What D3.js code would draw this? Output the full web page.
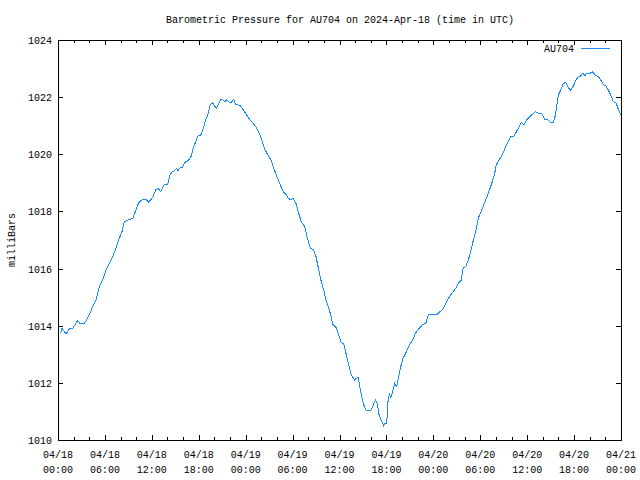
<!DOCTYPE html>
<html>
<head>
<meta charset="utf-8">
<script src="https://cdn.jsdelivr.net/npm/d3@7"></script>
<style>
  html, body { margin: 0; padding: 0; background: #fff; }
  svg { display: block; }
  text { font-family: "Liberation Mono", "DejaVu Sans Mono", monospace; font-size: 10px; fill: #000; }
</style>
</head>
<body>
<svg id="chart" width="640" height="480"></svg>
<script>
// ---- data ----
const title = "Barometric Pressure for AU704 on 2024-Apr-18 (time in UTC)";
const yLabel = "milliBars";
const seriesName = "AU704";
const startTime = "2024-04-18T00:00:00Z";
const endTime = "2024-04-21T00:00:00Z";
const yTicks = [1010, 1012, 1014, 1016, 1018, 1020, 1022, 1024];
// hours since 2024-04-18 00:00 UTC
const hours = [0.35,0.51,1.02,1.53,1.88,2.52,2.81,3.33,3.67,4.00,4.44,4.86,5.28,5.72,6.14,6.56,7.00,7.42,7.84,8.18,8.48,8.91,9.55,9.98,10.32,10.83,11.34,11.60,12.11,12.53,12.79,13.13,13.59,14.03,14.32,14.58,14.92,15.18,15.35,15.60,
15.90,16.24,16.66,17.01,17.30,17.61,17.87,18.29,18.58,18.89,19.22,19.48,19.73,19.99,20.24,20.50,20.81,21.14,21.36,21.57,21.87,22.21,22.47,22.73,23.28,23.70,24.13,24.55,24.98,25.41,25.83,26.13,26.38,26.82,27.24,27.53,27.84,28.17,28.52,28.81,29.12,29.45,29.80,30.09,30.31,
30.44,30.78,31.12,31.55,31.84,32.27,32.70,33.00,33.34,33.67,33.98,34.27,34.62,34.95,35.13,35.55,35.90,36.23,36.54,36.83,37.18,37.51,37.94,38.15,38.37,38.53,38.79,39.10,39.39,39.65,39.99,40.25,40.58,40.84,41.01,41.22,41.44,41.65,41.78,42.04,42.11,42.20,42.37,42.55,42.80,43.06,43.32,43.57,43.83,44.12,44.42,44.76,45.06,45.36,45.70,
46.08,46.59,47.03,47.36,47.87,48.51,48.82,49.15,49.58,50.00,50.43,50.86,51.28,51.58,51.80,52.14,52.47,52.78,53.07,53.42,53.75,54.19,54.61,55.03,55.47,55.80,56.05,56.40,56.82,57.26,57.59,57.90,58.32,58.62,58.87,59.25,59.60,59.94,60.36,60.79,61.09,61.43,61.86,62.28,62.70,62.92,63.34,63.56,63.78,63.98,64.29,64.62,64.93,65.26,65.57,65.90,66.25,66.54,66.85,67.10,67.40,67.62,68.04,68.33,68.68,69.10,69.41,69.74,70.09,70.38,70.68,71.02,71.36,71.66,71.84,72.00];
const pressure = [1013.73,1013.91,1013.71,1013.91,1013.91,1014.18,1014.08,1014.08,1014.20,1014.38,1014.67,1014.90,1015.37,1015.60,1015.95,1016.18,1016.42,1016.71,1017.06,1017.29,1017.63,1017.70,1017.75,1018.05,1018.31,1018.42,1018.40,1018.33,1018.49,1018.77,1018.80,1018.70,1018.93,1018.96,1019.27,1019.39,1019.43,1019.50,1019.43,1019.52,
1019.54,1019.72,1019.78,1019.92,1020.21,1020.44,1020.64,1020.68,1020.91,1021.20,1021.43,1021.73,1021.81,1021.71,1021.62,1021.74,1021.92,1021.90,1021.83,1021.92,1021.82,1021.83,1021.92,1021.74,1021.71,1021.55,1021.38,1021.20,1021.08,1020.91,1020.68,1020.44,1020.21,1019.98,1019.80,1019.57,1019.33,1019.10,1018.87,1018.69,1018.61,1018.46,1018.40,1018.46,1018.34,
1018.28,1017.93,1017.64,1017.47,1017.12,1016.71,1016.65,1016.42,1015.95,1015.54,1015.25,1014.90,1014.61,1014.32,1014.05,1013.94,1013.68,1013.41,1013.36,1013.03,1012.63,1012.28,1012.10,1012.16,1012.19,1011.98,1011.58,1011.23,1011.05,1011.02,1011.02,1011.17,1011.40,1011.28,1010.93,1010.76,1010.64,1010.49,1010.58,1010.58,1010.93,1011.34,1011.61,1011.49,1011.69,1011.98,1011.87,1012.22,1012.57,1012.86,1013.01,1013.21,1013.38,1013.50,1013.73,
1013.87,1014.03,1014.08,1014.38,1014.40,1014.40,1014.49,1014.55,1014.78,1014.98,1015.16,1015.31,1015.51,1015.60,1016.01,1016.07,1016.30,1016.59,1016.94,1017.29,1017.76,1018.05,1018.34,1018.63,1018.98,1019.27,1019.63,1019.80,1019.98,1020.27,1020.44,1020.64,1020.64,1020.79,1020.91,1021.11,1021.03,1021.20,1021.32,1021.43,1021.49,1021.43,1021.43,1021.22,1021.20,1021.13,1021.13,1021.32,1021.67,1022.08,1022.25,1022.48,1022.51,1022.34,1022.23,1022.39,1022.60,1022.72,1022.74,1022.83,1022.76,1022.83,1022.83,1022.89,1022.78,1022.72,1022.60,1022.43,1022.39,1022.25,1022.08,1021.84,1021.81,1021.57,1021.46,1021.38];

// ---- layout ----
const L = 58, R = 621, T = 40, B = 440;
const svg = d3.select("#chart");
const t0 = new Date(startTime), t1 = new Date(endTime);
const x = d3.scaleUtc().domain([t0, t1]).range([L, R]);
const y = d3.scaleLinear().domain([1010, 1024]).range([B, T]);
const data = hours.map((h, i) => ({ t: new Date(t0.getTime() + h * 3600e3), v: pressure[i] }));

const majorX = d3.utcHour.every(6).range(t0, new Date(t1.getTime() + 1));
const minorX = d3.utcHour.every(2).range(t0, new Date(t1.getTime() + 1));

function styleAxis(g) {
  g.select(".domain").remove();
  g.selectAll(".tick line").attr("stroke", "#000").attr("shape-rendering", "crispEdges");
  g.selectAll(".tick text").remove();
}

// minor x ticks bottom/top
svg.append("g").attr("transform", `translate(0,${B})`)
  .call(d3.axisBottom(x).tickValues(minorX).tickSize(-3).tickFormat(""))
  .call(styleAxis);
svg.append("g").attr("transform", `translate(0,${T})`)
  .call(d3.axisTop(x).tickValues(minorX).tickSize(-3).tickFormat(""))
  .call(styleAxis);
// major x ticks bottom/top
svg.append("g").attr("transform", `translate(0,${B})`)
  .call(d3.axisBottom(x).tickValues(majorX).tickSize(-5).tickFormat(""))
  .call(styleAxis);
svg.append("g").attr("transform", `translate(0,${T})`)
  .call(d3.axisTop(x).tickValues(majorX).tickSize(-5).tickFormat(""))
  .call(styleAxis);
// y ticks left/right
svg.append("g").attr("transform", `translate(${L},0)`)
  .call(d3.axisLeft(y).tickValues(yTicks).tickSize(-5).tickFormat(""))
  .call(styleAxis);
svg.append("g").attr("transform", `translate(${R},0)`)
  .call(d3.axisRight(y).tickValues(yTicks).tickSize(-5).tickFormat(""))
  .call(styleAxis);

// frame
svg.append("rect").attr("x", L + 0.5).attr("y", T + 0.5)
  .attr("width", R - L).attr("height", B - T)
  .attr("fill", "none").attr("stroke", "#000").attr("shape-rendering", "crispEdges");

// y labels
svg.append("g").selectAll("text").data(yTicks).join("text")
  .attr("x", L - 6).attr("y", d => y(d) + 4)
  .attr("text-anchor", "end").text(d => d);

// x labels
const fmtDate = d3.utcFormat("%m/%d"), fmtTime = d3.utcFormat("%H:%M");
const xl = svg.append("g").selectAll("text").data(majorX).join("text")
  .attr("text-anchor", "middle");
xl.append("tspan").attr("x", d => x(d)).attr("y", B + 18).text(d => fmtDate(d));
xl.append("tspan").attr("x", d => x(d)).attr("y", B + 33).text(d => fmtTime(d));

// title
svg.append("text").attr("x", 340).attr("y", 23).attr("text-anchor", "middle").text(title);
// y axis title
svg.append("text").attr("transform", `translate(15,${(T + B) / 2}) rotate(-90)`)
  .attr("text-anchor", "middle").text(yLabel);

// line
const lineColor = "#1a8cff";
svg.append("path").datum(data)
  .attr("fill", "none").attr("stroke", lineColor).attr("stroke-width", 1)
  .attr("shape-rendering", "crispEdges")
  .attr("d", d3.line().x(d => x(d.t)).y(d => y(d.v)));

// legend
svg.append("text").attr("x", 574).attr("y", 52).attr("text-anchor", "end").text(seriesName);
svg.append("line").attr("x1", 581).attr("x2", 610).attr("y1", 48.5).attr("y2", 48.5)
  .attr("stroke", lineColor).attr("stroke-width", 1).attr("shape-rendering", "crispEdges");
</script>
</body>
</html>
